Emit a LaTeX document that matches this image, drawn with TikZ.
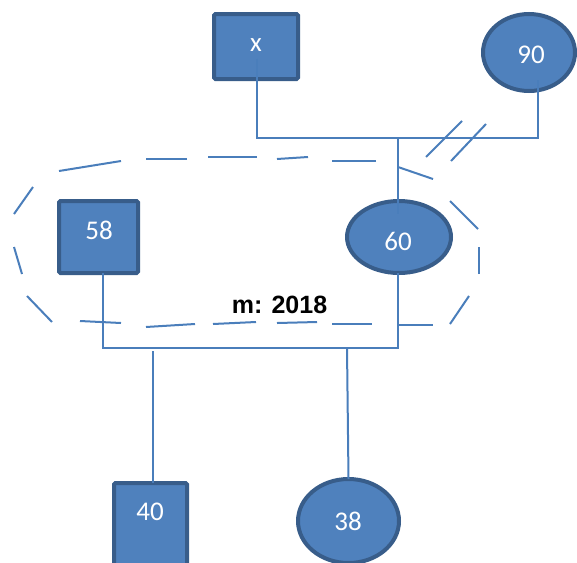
\documentclass[tikz,border=0pt]{standalone}
\usepackage{fontspec}
\setmainfont{Carlito}
\newfontfamily\captionfont{Liberation Sans}
\usetikzlibrary{calc,shapes.geometric}

\definecolor{boxfill}{HTML}{4F81BD}
\definecolor{boxrim}{HTML}{385D8A}
\definecolor{wirecol}{HTML}{4A7EBB}

\begin{document}
\begin{tikzpicture}[x=1pt,y=-1pt,
  shapebase/.style={draw=boxrim, fill=boxfill, line width=4pt, inner sep=0pt, outer sep=0pt},
  sq/.style={shapebase, rectangle, rounded corners=1.5pt},
  ov/.style={shapebase, ellipse},
  lbl/.style={text=white, anchor=base, inner sep=0pt, font=\fontsize{27}{27}\selectfont},
  caption/.style={anchor=base, inner sep=0pt, font=\captionfont\bfseries\fontsize{25}{25}\selectfont},
  wire/.style={draw=wirecol, line width=2pt},
  groupline/.style={draw=wirecol, line width=2pt}
]
\useasboundingbox (0,0) rectangle (577,562);

% hand-drawn dashed outline around the couple, one stroke per dash
\foreach \ax/\ay/\bx/\by in {
    80/321/121/323, 146/327/195/324, 213/324/256/322, 277/323/317/322,
    332/324/372/324, 398/325/433/325,
    450/324/469/296, 479/274/479/247, 478/229/450/201, 433/179/398/167,
    376/161/332/161, 308/157/277/159, 257/157/208/157, 187/159/146/159,
    121/161/59/171,
    33/187/14/214, 14/247/22/274, 27/296/52/322}
  \draw[groupline] (\ax,\ay) -- (\bx,\by);

% shapes
\node[sq, minimum width=84, minimum height=65] (nx)  at (256,46.5) {};
\node[ov, minimum width=92, minimum height=77] (n90) at (529,52.5) {};
\node[sq, minimum width=79, minimum height=72] (n58) at (98.5,237) {};
\node[ov, minimum width=104, minimum height=72] (n60) at (399,237) {};
\node[sq, minimum width=73, minimum height=90] (n40) at (150.5,528) {};
\node[ov, minimum width=101, minimum height=84] (n38) at (348.5,521) {};

% parents of 60
\coordinate (topL) at (257,138);
\coordinate (topR) at (538,138);
\coordinate (top60) at (398,138);
\draw[wire] ($(nx.center)+(1,12)$) -- (topL) -- (topR) -- ($(n90.center)+(9,27)$);
\draw[wire] (top60) -- ($(n60.center)+(-1,-23)$);
\draw[wire] (426,157) -- (462,121);
\draw[wire] (451,161) -- (486,124);

% couple bar and children
\coordinate (barL) at (103,348);
\coordinate (barR) at (398,348);
\draw[wire] ($(n58.south)+(4.5,0)$) -- (barL) -- (barR) -- ($(n60.south)+(-1,0)$);
\draw[wire] (153,351) -- ($(n40.north)+(2.5,0)$);
\draw[wire] (347,348) -- (n38.north);

% labels
\node[lbl] (tx)  at (256,51) {x};
\node[lbl] (t90) at (531,63) {90};
\node[lbl] (t58) at (99,239) {58};
\node[lbl] (t60) at (398,250) {60};
\node[lbl] (t40) at (150,520) {40};
\node[lbl] (t38) at (348,530) {38};
\node[caption] (tm) at (279.5,313) {m: 2018};
\end{tikzpicture}
\end{document}
